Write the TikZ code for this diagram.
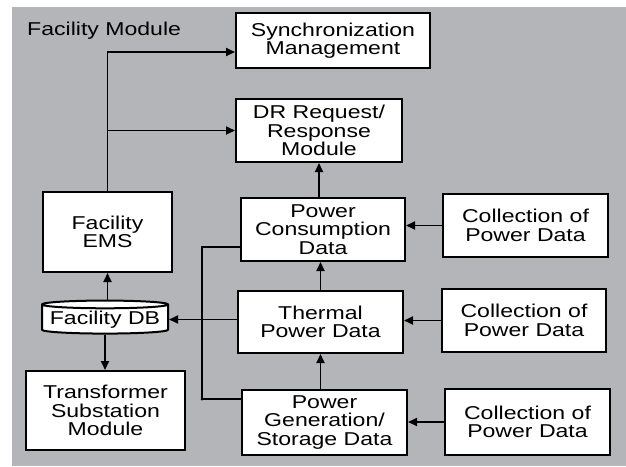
\documentclass[tikz,border=0pt]{standalone}
\usepackage{fontspec}
\setmainfont{Liberation Sans}[FakeStretch=1.24]
\usetikzlibrary{shapes.geometric,arrows.meta}
\definecolor{panel}{RGB}{180,181,184}

\begin{document}
\begin{tikzpicture}
	[x=1pt,y=-1pt%
	,every node/.style={font=\fontsize{18.6}{18.4}\selectfont,%
		align=center,%
		inner sep=0pt}%
	,box/.style={draw=black,%
		fill=white,%
		line width=2pt}%
	,arr/.style={-{Triangle[length=9pt,width=8pt]},%
		line width=1.8pt}]
	\useasboundingbox (0,0) rectangle (626,466);
	\fill[panel] (12,7) rectangle (626,466);
	\node[anchor=base west] (title) at (27,35) {Facility Module};
	\node[box,minimum width=194,minimum height=55] (sync) at (333,40.5) {Synchronization\\Management};
	\node[box,minimum width=166,minimum height=63] (drq) at (319,130.5) {DR Request/\\Response\\Module};
	\node[box,minimum width=129,minimum height=80] (ems) at (107.5,232) {Facility\\EMS};
	\node[box,cylinder,shape border rotate=90,aspect=0.07,%
		minimum width=126,minimum height=33] (db) at (105,319.5) {Facility DB};
	\node[box,minimum width=159,minimum height=79] (trafo) at (105.5,410.5) {Transformer\\Substation\\Module};
	\node[box,minimum width=164,minimum height=63] (cons) at (323,229.5) {Power\\Consumption\\Data};
	\node[box,minimum width=165,minimum height=62] (therm) at (320.5,322) {Thermal\\Power Data};
	\node[box,minimum width=165,minimum height=65] (gen) at (324.5,422.5) {Power\\Generation/\\Storage Data};
	\node[box,minimum width=165,minimum height=63] (coll1) at (525.5,225.5) {Collection of\\Power Data};
	\node[box,minimum width=164,minimum height=63] (coll2) at (524,320.5) {Collection of\\Power Data};
	\node[box,minimum width=165,minimum height=66] (coll3) at (527.5,422) {Collection of\\Power Data};
	\draw[arr] (ems.north) |- ([yshift=-11.5pt]sync.west);
	\draw[arr] (ems.north |- drq.west) -- (drq.west);
	\draw[arr] (db.north -| ems) -- (ems.south);
	\draw[arr] (db.south) -- (db.south |- trafo.north);
	\draw[arr] (db.east -| therm.west) -- (db.east);
	\draw[arr] (coll1.west) -- (coll1.west -| cons.east);
	\draw[arr] (coll2.west) -- (coll2.west -| therm.east);
	\draw[arr] (coll3.west) -- (coll3.west -| gen.east);
	\draw[arr] (gen.north -| therm) -- (therm.south);
	\draw[arr] (therm.north) -- (therm.north |- cons.south);
	\draw[arr] (cons.north -| drq) -- (drq.south);
	\draw[line width=1.8pt] ([yshift=-17.5pt]cons.west) -- ++(-38,0) coordinate (bus)
		|- ([yshift=23.5pt]gen.west) coordinate (tap);
	\fill (bus |- tap) circle (1.5pt);
\end{tikzpicture}
\end{document}
